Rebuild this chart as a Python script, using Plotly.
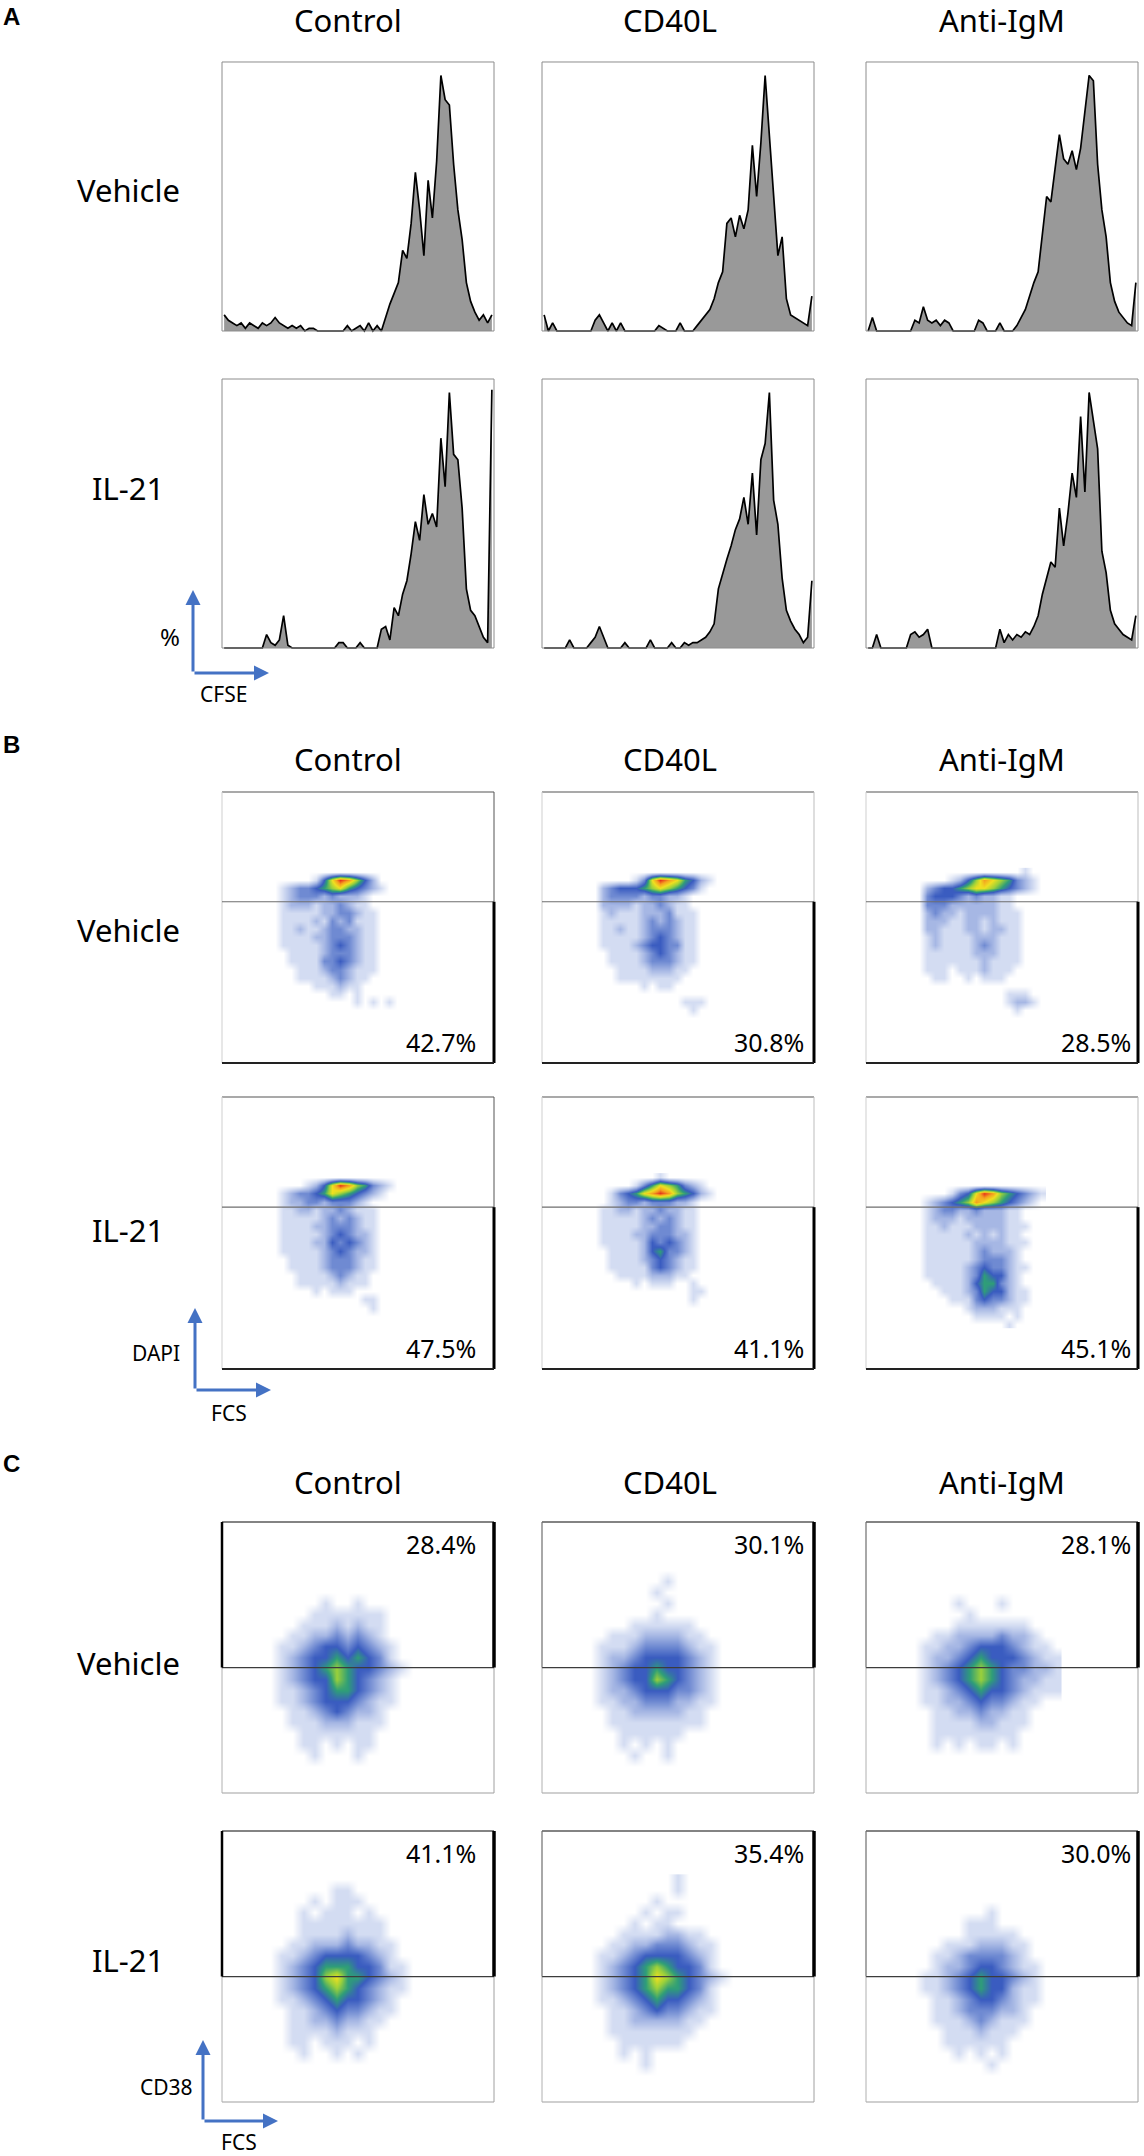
import plotly.graph_objects as go

W, H = 1144, 2156
FONT = "Noto Sans"
ARROW_BLUE = "#4472C4"
PAD = 1.5  # axis padding (data units) so frame lines are not clipped

CONDITIONS = ["Control", "CD40L", "Anti-IgM"]
TREATMENTS = ["Vehicle", "IL-21"]

# ---------------- A: CFSE histograms ----------------
# 64 bins across the CFSE axis, height in % of the frame height
CFSE_VEHICLE_CONTROL = [6, 4, 3, 2, 3, 1, 3, 2, 1, 3, 2, 3, 5, 3, 2, 1, 2, 1, 2, 0, 1, 1, 0,
                        0, 0, 0, 0, 0, 0,
                        2, 0, 1, 2, 0, 3, 0, 2,
                        0, 5, 10, 14, 18, 30, 27, 40, 59, 45, 28, 56, 42, 63, 95, 86, 84, 62, 45, 34, 18, 11, 7, 4, 6, 3, 6]
CFSE_IL21_CONTROL = [0, 0, 0, 0, 0, 0, 0, 0, 0, 0,
                     5, 2, 1, 3, 12, 1,
                     0, 0, 0, 0, 0, 0, 0, 0, 0, 0, 0,
                     2, 2, 0, 0, 0, 2, 0, 0, 0, 0,
                     7, 8, 3, 15, 12, 20, 25, 35, 47, 40, 57, 46, 50, 45, 78, 60, 95, 72, 70, 52, 22, 14, 12, 8, 4, 2, 96]
CFSE_VEHICLE_CD40L = [6, 0, 3, 0, 0, 0, 0, 0, 0, 0, 0, 0,
                      4, 6, 3, 0, 3, 0, 3, 0,
                      0, 0, 0, 0, 0, 0, 0,
                      2, 1, 0, 0, 0, 3, 0, 0, 0, 2,
                      4, 6, 8, 12, 18, 22, 40, 42, 35, 43, 38, 45, 69, 50, 70, 95, 72, 50, 28, 35, 12, 6, 5, 4, 3, 2, 13]
CFSE_IL21_CD40L = [0, 0, 0, 0, 0, 0, 3, 0, 0, 0, 0,
                   2, 4, 8, 4, 0, 0, 0, 0, 2,
                   0, 0, 0, 0, 0, 3, 0, 0, 0, 0,
                   2, 0, 0, 2, 1, 2, 2,
                   3, 4, 6, 9, 22, 28, 33, 38, 44, 48, 56, 46, 65, 42, 70, 76, 95, 55, 46, 26, 14, 10, 7, 5, 2, 4, 25]
CFSE_VEHICLE_IGM = [0, 5, 0, 0, 0, 0, 0, 0, 0, 0, 0,
                    4, 3, 9, 4, 3, 4, 2, 4, 3,
                    0, 0, 0, 0, 0, 0, 4, 3, 0, 0,
                    0, 3, 0, 0, 0, 2, 5,
                    8, 13, 18, 22, 36, 50, 48, 60, 73, 64, 62, 67, 60, 68, 82, 95, 93, 62, 45, 35, 18, 11, 7, 5, 3, 2, 18]
CFSE_IL21_IGM = [0, 0, 5, 0, 0, 0, 0, 0, 0, 0,
                 5, 6, 4, 5, 7,
                 0, 0, 0, 0, 0, 0, 0, 0, 0, 0, 0, 0, 0, 0, 0, 0,
                 7, 2, 5, 3, 5, 4,
                 6, 5, 8, 12, 20, 26, 32, 30, 52, 38, 50, 65, 56, 86, 58, 95, 84, 74, 36, 28, 14, 9, 7, 5, 4, 3, 12]

# ---------------- B: DAPI vs FCS density ----------------
# one string per row (top row first), one digit per cell: 0 empty .. 9 densest
DAPI_X = [19.5, 22.5, 25.5, 28.5, 31.5, 34.5, 37.5, 40.5, 43.5, 46.5, 49.5, 52.5, 55.5, 58.5, 61.5, 64.5]
DAPI_Y = [70.5, 67.5, 64.5, 61.5, 58.5, 55.5, 52.5, 49.5, 46.5, 43.5, 40.5, 37.5, 34.5, 31.5, 28.5, 25.5, 22.5, 19.5, 16.5]
DAPI_GATE = 59.5

DAPI_VEHICLE_CONTROL = [
    "0000000000000000", "0000014798642000", "0123345675432100", "0123332322210000",
    "0122212232110000", "0111112233211000", "0111121323111000", "0112112332211000",
    "0111122333211000", "0111112343211000", "0011112333211000", "0011113343211000",
    "0001112332111000", "0001111232110000", "0000011121100000", "0000000110100000",
    "0000000000101010", "0000000000000000", "0000000000000000"]
DAPI_IL21_CONTROL = [
    "0000000000000000", "0000124798653210", "0123345765432100", "0122332333210000",
    "0112212232111000", "0111112323211000", "0111122333211000", "0111112343221000",
    "0111122434321000", "0111112343221000", "0011112333211000", "0011112333211000",
    "0001111232110000", "0001111121110000", "0000010111000000", "0000000000011000",
    "0000000000001000", "0000000000000000", "0000000000000000"]
DAPI_VEHICLE_CD40L = [
    "0000000000000000", "0000013798754210", "0234445676543100", "0233332332210000",
    "0222212232110000", "0121112223111000", "0111112323211000", "0112112333211000",
    "0111112343211000", "0111123443311000", "0011112343211000", "0011112333211000",
    "0001111222110000", "0001111111100000", "0000001011000000", "0000000000000000",
    "0000000000011100", "0000000000001000", "0000000000000000"]
DAPI_IL21_CD40L = [
    "0000000010000000", "0000013576532100", "0013457898654210", "0012332333221000",
    "0112212232211000", "0111112323211000", "0111112233211000", "0111122333221000",
    "0111112434321000", "0011112453321000", "0011112343211000", "0011111343211000",
    "0001111222110000", "0000010111001000", "0000000000001100", "0000000000001000",
    "0000000000000000", "0000000000000000", "0000000000000000"]
DAPI_VEHICLE_IGM = [
    "0000000000000100", "0000124687653210", "0234456776543210", "0344432322110000",
    "0333222222110000", "0232212222111000", "0222112212111000", "0221112212211000",
    "0121111222111000", "0121111232111000", "0111111222111000", "0111111121111000",
    "0111011121110000", "0011001011100000", "0000000000000000", "0000000000011100",
    "0000000000012210", "0000000000001000", "0000000000000000"]
DAPI_IL21_IGM = [
    "0000000000000000", "0000000000000000", "0000134798654321", "0123456876543210",
    "0123322322211000", "0122212222211000", "0112111222211100", "0111112121211000",
    "0111111222211100", "0111111232221000", "0111111233321000", "0111112343321100",
    "0111112354421000", "0011112455321000", "0001112354421100", "0000111343321100",
    "0000001222111000", "0000000111101000", "0000000000010000"]

DAPI_PCT = [["42.7%", "30.8%", "28.5%"], ["47.5%", "41.1%", "45.1%"]]

# ---------------- C: CD38 vs FCS density ----------------
CD38_X = [18, 22, 26, 30, 34, 38, 42, 46, 50, 54, 58, 62, 66, 70]
CD38_Y = [82, 78, 74, 70, 66, 62, 58, 54, 50, 46, 42, 38, 34, 30, 26, 22, 18, 14, 10]
CD38_GATE = 46.3

CD38_VEHICLE_CONTROL = [
    "00000000000000", "00000000000000", "00000000000000", "00000100100000",
    "00001111111000", "00011121211000", "00112232321000", "01123443432100",
    "01234454543100", "01234565443210", "01234465432100", "01123455432100",
    "01123444321100", "00112343221000", "00111222111000", "00011111110000",
    "00011010110000", "00001000100000", "00000000000000"]
CD38_IL21_CONTROL = [
    "00000000000000", "00000011000000", "00001011100000", "00010111010000",
    "00011111111000", "00011112111000", "00112223221100", "01123444432100",
    "01234555443110", "01234675543210", "01234565432110", "01123454432100",
    "00112343321100", "00112232211000", "00111121110000", "00110111010000",
    "00010010100000", "00000000000000", "00000000000000"]
CD38_VEHICLE_CD40L = [
    "00000000000000", "00000001000000", "00000010000000", "00000001000000",
    "00000010000000", "00001111110000", "00111222211000", "01112333321100",
    "01223444432100", "01234454432100", "01234465432100", "01223444332100",
    "01122333221100", "00112222211000", "00111111111000", "00011111100000",
    "00010101000000", "00001001000000", "00000000000000"]
CD38_IL21_CD40L = [
    "00000000100000", "00000000100000", "00000010000000", "00000101100000",
    "00001011000000", "00011112211000", "00112233321100", "01123444432100",
    "01234565443100", "01234576543210", "01234565543100", "01123454432100",
    "00112343321100", "00112222211000", "00111111110000", "00011111100000",
    "00010100000000", "00000100000000", "00000000000000"]
CD38_VEHICLE_IGM = [
    "00000000000000", "00000000000000", "00000000000000", "00001000100000",
    "00000100000000", "00001111111000", "00112222322100", "01122344432110",
    "01223454443211", "01234565433221", "01234565432211", "01123454432111",
    "01122343321100", "00112232211000", "00111122111000", "00111111110000",
    "00101011010000", "00000000000000", "00000000000000"]
CD38_IL21_IGM = [
    "00000000000000", "00000000000000", "00000000000000", "00000001000000",
    "00000111000000", "00000111110000", "00011122211000", "00112333321000",
    "00122344321100", "01123454432100", "01123454421100", "00112344321100",
    "00112333221000", "00111232111000", "00011121110000", "00011111100000",
    "00001010100000", "00000001000000", "00000000000000"]

CD38_PCT = [["28.4%", "30.1%", "28.1%"], ["41.1%", "35.4%", "30.0%"]]

# pseudo-colour levels 0..9 (white -> blue -> green -> yellow -> red)
LEVEL_COLORS = ["#ffffff", "#d3dcf2", "#a6b7e4", "#6f8ad2", "#3a5cc0",
                "#2f9e78", "#9bd13b", "#f0e020", "#f5a020", "#e5301c"]

# ---------------- page geometry (pixels) ----------------
COL_X = [(222, 494), (542, 814), (866, 1138)]
ROWS_A = [(62, 331), (379, 648)]
ROWS_B = [(792, 1063), (1097, 1369)]
ROWS_C = [(1522, 1793), (1831, 2102)]
TITLE_X = [348, 670, 1002]
LABEL_X = 128
PCT_RIGHT = [478, 806, 1133]


def px(x):
    return x / W


def py(y):
    return 1 - y / H


def axis_refs(n):
    return ("x" if n == 1 else f"x{n}"), ("y" if n == 1 else f"y{n}")


def add_axes(fig, n, box_x, box_y):
    x0, x1 = box_x
    y0, y1 = box_y
    dx = (x1 - x0) * PAD / 100
    dy = (y1 - y0) * PAD / 100
    xname = "xaxis" if n == 1 else f"xaxis{n}"
    yname = "yaxis" if n == 1 else f"yaxis{n}"
    xr, yr = axis_refs(n)
    fig.update_layout(**{
        xname: dict(domain=[px(x0 - dx), px(x1 + dx)], range=[-PAD, 100 + PAD],
                    visible=False, anchor=yr, fixedrange=True),
        yname: dict(domain=[py(y1 + dy), py(y0 - dy)], range=[-PAD, 100 + PAD],
                    visible=False, anchor=xr, fixedrange=True),
    })


def seg(n, x0, y0, x1, y1, color, width):
    xr, yr = axis_refs(n)
    return dict(type="line", xref=xr, yref=yr, x0=x0, y0=y0, x1=x1, y1=y1,
                line=dict(color=color, width=width))


def level_colorscale():
    k = len(LEVEL_COLORS) - 1
    return [[i / k, c] for i, c in enumerate(LEVEL_COLORS)]


def grid_to_z(rows, ncols):
    return [[int(ch) for ch in row[:ncols].ljust(ncols, "0")] for row in rows]


def add_histogram(fig, n, values):
    xr, yr = axis_refs(n)
    xs = [(i + 0.5) * 100 / len(values) for i in range(len(values))]
    fig.add_trace(go.Scatter(x=xs, y=values, mode="lines",
                             line=dict(color="black", width=1.7),
                             fill="tozeroy", fillcolor="#999999",
                             hoverinfo="skip", showlegend=False,
                             xaxis=xr, yaxis=yr))
    fig.add_shape(type="rect", xref=xr, yref=yr, x0=0, y0=0, x1=100, y1=100,
                  line=dict(color="#8c8c8c", width=1))


def add_density(fig, n, rows, xs, ys):
    xr, yr = axis_refs(n)
    fig.add_trace(go.Heatmap(x=xs, y=ys, z=grid_to_z(rows, len(xs)),
                             colorscale=level_colorscale(), zmin=0, zmax=9,
                             zsmooth="best", showscale=False, hoverinfo="skip",
                             xaxis=xr, yaxis=yr))


def dapi_frame(fig, n, col):
    g = DAPI_GATE
    fig.add_shape(seg(n, 0, 100, 100, 100, "#8c8c8c", 1.5))
    fig.add_shape(seg(n, 0, 0, 0, 100, "#cfcfcf", 1))
    fig.add_shape(seg(n, 100, g, 100, 100, "#555555" if col == 0 else "#bdbdbd", 1))
    fig.add_shape(seg(n, 0, g, 100, g, "#6e6e6e", 1.2))
    fig.add_shape(seg(n, 100, 0, 100, g, "black", 3))
    fig.add_shape(seg(n, 0, 0, 100, 0, "#222222", 2))


def cd38_frame(fig, n, col):
    g = CD38_GATE
    fig.add_shape(seg(n, 0, 0, 100, 0, "#a0a0a0", 1.2))
    fig.add_shape(seg(n, 0, 0, 0, g, "#b0b0b0", 1))
    fig.add_shape(seg(n, 100, 0, 100, g, "#a0a0a0", 1))
    fig.add_shape(seg(n, 0, g, 100, g, "#3c3c3c", 1.2))
    fig.add_shape(seg(n, 0, 100, 100, 100, "#5a5a5a", 1.5))
    fig.add_shape(seg(n, 0, g, 0, 100, "black" if col == 0 else "#6e6e6e", 2.5 if col == 0 else 1.2))
    fig.add_shape(seg(n, 100, g, 100, 100, "black", 3.5))


def text(fig, s, x, y, size, xanchor="center", bold=False, family=FONT):
    fig.add_annotation(x=px(x), y=py(y), xref="paper", yref="paper",
                       text=f"<b>{s}</b>" if bold else s,
                       showarrow=False, xanchor=xanchor, yanchor="middle",
                       font=dict(family=family, size=size, color="black"))


def axis_arrows(fig, vx, top, corner, right, ylab, ylab_pos, xlab, xlab_pos, ysize=21):
    fig.add_annotation(x=px(vx), y=py(top), xref="paper", yref="paper", text="",
                       showarrow=True, ax=0, ay=corner - top, arrowcolor=ARROW_BLUE,
                       arrowwidth=3, arrowhead=2, arrowsize=1)
    fig.add_annotation(x=px(right), y=py(corner), xref="paper", yref="paper", text="",
                       showarrow=True, ax=-(right - vx), ay=0, arrowcolor=ARROW_BLUE,
                       arrowwidth=3, arrowhead=2, arrowsize=1)
    text(fig, ylab, ylab_pos[0], ylab_pos[1], ysize)
    text(fig, xlab, xlab_pos[0], xlab_pos[1], 21)


def section_labels(fig, letter, letter_y, title_y, label_ys):
    text(fig, letter, 1, letter_y, 24, xanchor="left", bold=True, family="Liberation Sans")
    for cond, tx in zip(CONDITIONS, TITLE_X):
        text(fig, cond, tx, title_y, 31)
    for treat, ly in zip(TREATMENTS, label_ys):
        text(fig, treat, LABEL_X, ly, 31)


def build_figure():
    fig = go.Figure()
    n = 0

    hist_data = [[CFSE_VEHICLE_CONTROL, CFSE_VEHICLE_CD40L, CFSE_VEHICLE_IGM],
                 [CFSE_IL21_CONTROL, CFSE_IL21_CD40L, CFSE_IL21_IGM]]
    for r, box_y in enumerate(ROWS_A):
        for c, box_x in enumerate(COL_X):
            n += 1
            add_axes(fig, n, box_x, box_y)
            add_histogram(fig, n, hist_data[r][c])

    dapi_data = [[DAPI_VEHICLE_CONTROL, DAPI_VEHICLE_CD40L, DAPI_VEHICLE_IGM],
                 [DAPI_IL21_CONTROL, DAPI_IL21_CD40L, DAPI_IL21_IGM]]
    for r, box_y in enumerate(ROWS_B):
        for c, box_x in enumerate(COL_X):
            n += 1
            add_axes(fig, n, box_x, box_y)
            add_density(fig, n, dapi_data[r][c], DAPI_X, DAPI_Y)
            dapi_frame(fig, n, c)
            text(fig, DAPI_PCT[r][c], PCT_RIGHT[c], box_y[1] - 21, 25, xanchor="right")

    cd38_data = [[CD38_VEHICLE_CONTROL, CD38_VEHICLE_CD40L, CD38_VEHICLE_IGM],
                 [CD38_IL21_CONTROL, CD38_IL21_CD40L, CD38_IL21_IGM]]
    for r, box_y in enumerate(ROWS_C):
        for c, box_x in enumerate(COL_X):
            n += 1
            add_axes(fig, n, box_x, box_y)
            add_density(fig, n, cd38_data[r][c], CD38_X, CD38_Y)
            cd38_frame(fig, n, c)
            text(fig, CD38_PCT[r][c], PCT_RIGHT[c], box_y[0] + 22, 25, xanchor="right")

    section_labels(fig, "A", 16, 20, [190, 488])
    section_labels(fig, "B", 744, 759, [930, 1230])
    section_labels(fig, "C", 1463, 1482, [1663, 1960])

    axis_arrows(fig, 193, 590, 673, 269, "%", (170, 637), "CFSE", (223, 694), ysize=24)
    axis_arrows(fig, 195, 1308, 1390, 271, "DAPI", (156, 1353), "FCS", (229, 1413))
    axis_arrows(fig, 203, 2040, 2121, 278, "CD38", (166, 2087), "FCS", (239, 2142))

    fig.update_layout(width=W, height=H, margin=dict(l=0, r=0, t=0, b=0),
                      paper_bgcolor="white", plot_bgcolor="white",
                      showlegend=False, font=dict(family=FONT))
    return fig


if __name__ == "__main__":
    fig = build_figure()
    fig.write_html("out.html", config={"displayModeBar": False},
                   post_script="document.body.style.margin='0';document.body.style.overflow='hidden';")
